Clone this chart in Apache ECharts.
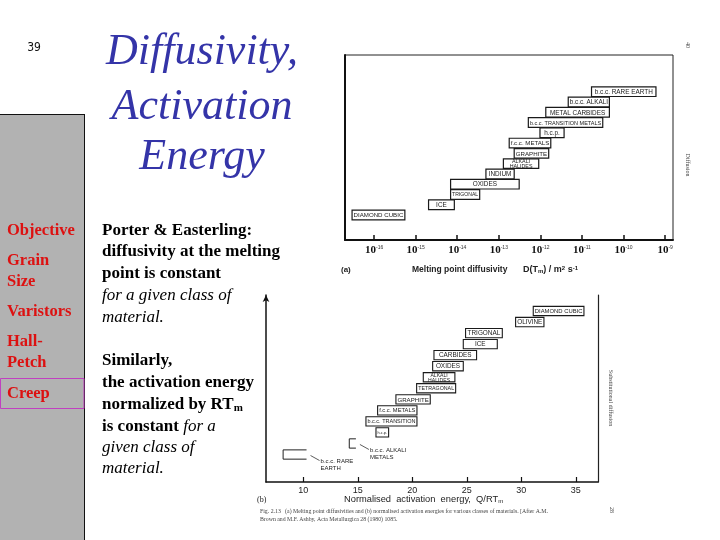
<!DOCTYPE html>
<html><head><meta charset="utf-8">
<script src="https://cdn.jsdelivr.net/npm/echarts@6.0.0/dist/echarts.min.js"></script>
<style>html,body{margin:0;padding:0;background:#fff}#c{width:720px;height:540px}</style>
</head><body><div id="c"></div>
<script>
// ---- Chart (a): melting point diffusivity, log10 D(Tm) in m^2/s (bottom row first)
const classesA = ['DIAMOND CUBIC','ICE','TRIGONAL','OXIDES','INDIUM','ALKALI\nHALIDES','GRAPHITE','f.c.c. METALS','h.c.p.','b.c.c. TRANSITION METALS','METAL CARBIDES','b.c.c. ALKALI','b.c.c. RARE EARTH'];
const logDLow  = [-16.53,-14.69,-14.16,-14.16,-13.31,-12.89,-12.63,-12.75,-12.01,-12.29,-11.87,-11.33,-10.77];
const logDHigh = [-15.26,-14.07,-13.46,-12.51,-12.63,-12.04,-11.80,-11.75,-11.43,-10.50,-10.34,-10.34,-9.22];
const exponentTicks = [-16,-15,-14,-13,-12,-11,-10,-9];

// ---- Chart (b): normalised activation energy Q/RTm
const openClassesB = ['b.c.c. RARE\nEARTH','b.c.c. ALKALI\nMETALS'];
const openLowB  = [8.15,14.22];
const openHighB = [10.30,14.83];
const boxClassesB = ['h.c.p.','b.c.c. TRANSITION','f.c.c. METALS','GRAPHITE','TETRAGONAL','ALKALI\nHALIDES','OXIDES','CARBIDES','ICE','TRIGONAL','OLIVINE','DIAMOND CUBIC'];
const boxLowB  = [16.67,15.75,16.82,18.50,20.40,21.01,21.87,21.99,24.68,24.89,29.48,31.10];
const boxHighB = [17.83,20.43,20.43,21.65,23.98,23.91,24.68,25.90,27.80,28.26,32.08,35.75];
const energyTicks = [10,15,20,25,30,35];

const serif = '"Liberation Serif","Times New Roman",serif';
const sans = '"Liberation Sans",Arial,sans-serif';
const mctx = document.createElement('canvas').getContext('2d');
function textW(s, px){ mctx.font = px + 'px ' + sans; return mctx.measureText(s).width; }

function makeBoxRender(names, half, lw){
  return function(params, api){
    const lo = api.value(0), hi = api.value(1), row = api.value(2);
    const a = api.coord([lo, row + half]), b = api.coord([hi, row - half]);
    const w = b[0]-a[0], h = b[1]-a[1];
    const name = names[params.dataIndex];
    const lines = name.split('\n');
    const longest = Math.max.apply(null, lines.map(l => textW(l, 6)));
    const fs = Math.min(6.4, 6*(w-3)/longest, (h+1)/lines.length);
    return {type:'group', children:[
      {type:'rect', shape:{x:a[0], y:a[1], width:w, height:h}, style:{fill:'#fff', stroke:'#1a1a1a', lineWidth:lw}},
      {type:'text', x:a[0]+w/2, y:a[1]+h/2+0.5, style:{text:name, font:fs.toFixed(2)+'px '+sans, fill:'#1a1a1a', align:'center', verticalAlign:'middle', lineHeight:fs}}
    ]};
  };
}
function openRender(params, api){
  const lo = api.value(0), hi = api.value(1), row = api.value(2);
  const a = api.coord([lo, row + 0.42]), b = api.coord([hi, row - 0.42]);
  const cy = (a[1]+b[1])/2;
  return {type:'group', children:[
    {type:'polyline', shape:{points:[[b[0],a[1]],[a[0],a[1]],[a[0],b[1]],[b[0],b[1]]]}, style:{stroke:'#222', lineWidth:1, fill:null}},
    {type:'line', shape:{x1:b[0]+4, y1:cy+1, x2:b[0]+13, y2:cy+6}, style:{stroke:'#333', lineWidth:0.8}},
    {type:'text', x:b[0]+14, y:cy+3, style:{text:openClassesB[params.dataIndex], font:'6px '+sans, fill:'#222', align:'left', verticalAlign:'top', lineHeight:7.5}}
  ]};
}

const hiddenY = {axisTick:{show:false}, axisLabel:{show:false}, splitLine:{show:false}};

const elements = [];
// left navigation panel
elements.push({type:'rect', shape:{x:0, y:114, width:84, height:426}, style:{fill:'#b2b2b2'}, z:1});
elements.push({type:'line', shape:{x1:0, y1:114.5, x2:84.5, y2:114.5}, style:{stroke:'#111', lineWidth:1}, z:2});
elements.push({type:'line', shape:{x1:84.5, y1:114, x2:84.5, y2:540}, style:{stroke:'#111', lineWidth:1}, z:2});
elements.push({type:'rect', shape:{x:0.5, y:378.5, width:83.5, height:30}, style:{fill:null, stroke:'#c040c0', lineWidth:1}, z:3});
[['Objective',231],['Grain',261],['Size',282],['Varistors',312],['Hall-',342],['Petch',363],['Creep',394]].forEach(t=>{
  elements.push({type:'text', x:7, y:t[1], style:{text:t[0], font:'bold 16.5px '+serif, fill:'#dd1111', align:'left', verticalAlign:'middle'}, z:4});
});
elements.push({type:'text', x:34, y:48, style:{text:'39', font:'12px "DejaVu Sans Condensed",'+sans, fill:'#111', align:'center', verticalAlign:'middle'}, z:4});
// title
[['Diffusivity,',52],['Activation',107],['Energy',157]].forEach(t=>{
  elements.push({type:'text', x:202, y:t[1], style:{text:t[0], font:'italic 44px '+serif, fill:'#3434a8', align:'center', verticalAlign:'middle'}, z:4});
});
// body text
const rich = {
  b:{fontFamily:serif, fontWeight:'bold', fontSize:17, fill:'#000'},
  i:{fontFamily:serif, fontStyle:'italic', fontSize:17, fill:'#000'},
  sub:{fontFamily:serif, fontWeight:'bold', fontSize:11, fill:'#000', verticalAlign:'bottom', padding:[5,0,0,0]}
};
[['{b|Porter & Easterling:}',231],['{b|diffusivity at the melting}',252],['{b|point is constant}',274],
 ['{i|for a given class of}',296],['{i|material.}',318],['{b|Similarly,}',361],['{b|the activation energy}',383],
 ['{b|normalized by RT}{sub|m}',405],['{b|is constant }{i|for a}',427],['{i|given class of}',448],['{i|material.}',469]].forEach(t=>{
  elements.push({type:'text', x:102, y:t[1], style:{text:t[0], rich:rich, align:'left', verticalAlign:'middle'}, z:4});
});
// chart (a) texts
elements.push({type:'text', x:341, y:270, style:{text:'(a)', font:'bold 8px '+sans, fill:'#222', align:'left', verticalAlign:'middle'}, z:4});
elements.push({type:'text', x:412, y:270, style:{text:'Melting point diffusivity', font:'bold 8.5px '+sans, fill:'#222', align:'left', verticalAlign:'middle'}, z:4});
elements.push({type:'text', x:523, y:270, style:{text:'D(T{s|m}) / m{p|2} s{p|-1}', rich:{s:{fontSize:6,fontFamily:sans,fontWeight:'bold',fill:'#222',verticalAlign:'bottom'},p:{fontSize:6,fontFamily:sans,fontWeight:'bold',fill:'#222',verticalAlign:'top'}}, font:'bold 9px '+sans, fill:'#222', align:'left', verticalAlign:'middle'}, z:4});
elements.push({type:'text', x:688, y:165, rotation:-Math.PI/2, style:{text:'Diffusion', font:'6px '+serif, fill:'#444', align:'center', verticalAlign:'middle'}, z:4});
elements.push({type:'text', x:688, y:45, rotation:-Math.PI/2, style:{text:'40', font:'6px '+serif, fill:'#444', align:'center', verticalAlign:'middle'}, z:4});
// chart (b) texts
elements.push({type:'text', x:257, y:500, style:{text:'(b)', font:'8px '+serif, fill:'#222', align:'left', verticalAlign:'middle'}, z:4});
elements.push({type:'text', x:344, y:499.5, style:{text:'Normalised  activation  energy,  Q/RT{s|m}', rich:{s:{fontSize:6,fontFamily:sans,fill:'#222',verticalAlign:'bottom'}}, font:'9.3px '+sans, fill:'#222', align:'left', verticalAlign:'middle'}, z:4});
elements.push({type:'text', x:260, y:511, style:{text:'Fig. 2.13   (a) Melting point diffusivities and (b) normalised activation energies for various classes of materials. [After A.M.', font:'5.8px '+serif, fill:'#444', align:'left', verticalAlign:'middle'}, z:4});
elements.push({type:'text', x:260, y:519, style:{text:'Brown and M.F. Ashby, Acta Metallurgica 28 (1980) 1085.', font:'5.8px '+serif, fill:'#444', align:'left', verticalAlign:'middle'}, z:4});
elements.push({type:'text', x:611, y:398, rotation:-Math.PI/2, style:{text:'Substitutional diffusion', font:'6px '+serif, fill:'#444', align:'center', verticalAlign:'middle'}, z:4});
elements.push({type:'text', x:612, y:510, rotation:-Math.PI/2, style:{text:'28', font:'6px '+serif, fill:'#444', align:'center', verticalAlign:'middle'}, z:4});

const option = {
  animation:false,
  backgroundColor:'#fff',
  grid:[
    {left:345, top:55, width:328, height:185, show:true, borderColor:'#222', borderWidth:1, containLabel:false, outerBoundsMode:'none'},
    {left:266, top:295, width:332, height:187, show:false, containLabel:false, outerBoundsMode:'none'}
  ],
  xAxis:[
    {gridIndex:0, type:'value', min:-16.70, max:-8.81,
     axisLine:{show:true, onZero:false, lineStyle:{color:'#111', width:2}},
     axisTick:{show:true, inside:true, length:5, customValues:exponentTicks, lineStyle:{color:'#111', width:1.5}},
     axisLabel:{show:true, customValues:exponentTicks, margin:5, formatter:v=>'{b|10}{s|'+v+'}',
       rich:{b:{fontFamily:serif, fontWeight:'bold', fontSize:11, color:'#111'}, s:{fontFamily:sans, fontSize:5, color:'#333', verticalAlign:'top'}}},
     splitLine:{show:false}},
    {gridIndex:1, type:'value', min:6.58, max:37.04,
     axisLine:{show:true, onZero:false, lineStyle:{color:'#111', width:1.5}},
     axisTick:{show:true, inside:true, length:5, customValues:energyTicks, lineStyle:{color:'#111', width:1.2}},
     axisLabel:{show:true, customValues:energyTicks, margin:4, fontFamily:sans, fontSize:9, color:'#222'},
     splitLine:{show:false}}
  ],
  yAxis:[
    Object.assign({gridIndex:0, type:'value', min:-2.43, max:15.57, axisLine:{show:true, onZero:false, lineStyle:{color:'#111', width:2}}}, hiddenY),
    Object.assign({gridIndex:1, type:'value', min:-2.49, max:14.45, axisLine:{show:true, onZero:false, symbol:['none','arrow'], symbolSize:[5,7], lineStyle:{color:'#111', width:1.5}}}, hiddenY),
    Object.assign({gridIndex:1, type:'value', position:'right', min:-2.49, max:14.45, axisLine:{show:true, onZero:false, lineStyle:{color:'#222', width:1.2}}}, hiddenY)
  ],
  series:[
    {type:'custom', name:'diffusivity', xAxisIndex:0, yAxisIndex:0, encode:{x:[0,1], y:2},
     data:classesA.map((n,i)=>[logDLow[i], logDHigh[i], i]), renderItem:makeBoxRender(classesA, 0.47, 1.2)},
    {type:'custom', name:'energy', xAxisIndex:1, yAxisIndex:1, encode:{x:[0,1], y:2},
     data:boxClassesB.map((n,i)=>[boxLowB[i], boxHighB[i], i+2]), renderItem:makeBoxRender(boxClassesB, 0.42, 1.1)},
    {type:'custom', name:'energyOpen', xAxisIndex:1, yAxisIndex:1, encode:{x:[0,1], y:2}, clip:false,
     data:openClassesB.map((n,i)=>[openLowB[i], openHighB[i], i]), renderItem:openRender}
  ],
  graphic:{elements:elements}
};
const chart = echarts.init(document.getElementById('c'));
chart.setOption(option);
</script>
</body></html>
